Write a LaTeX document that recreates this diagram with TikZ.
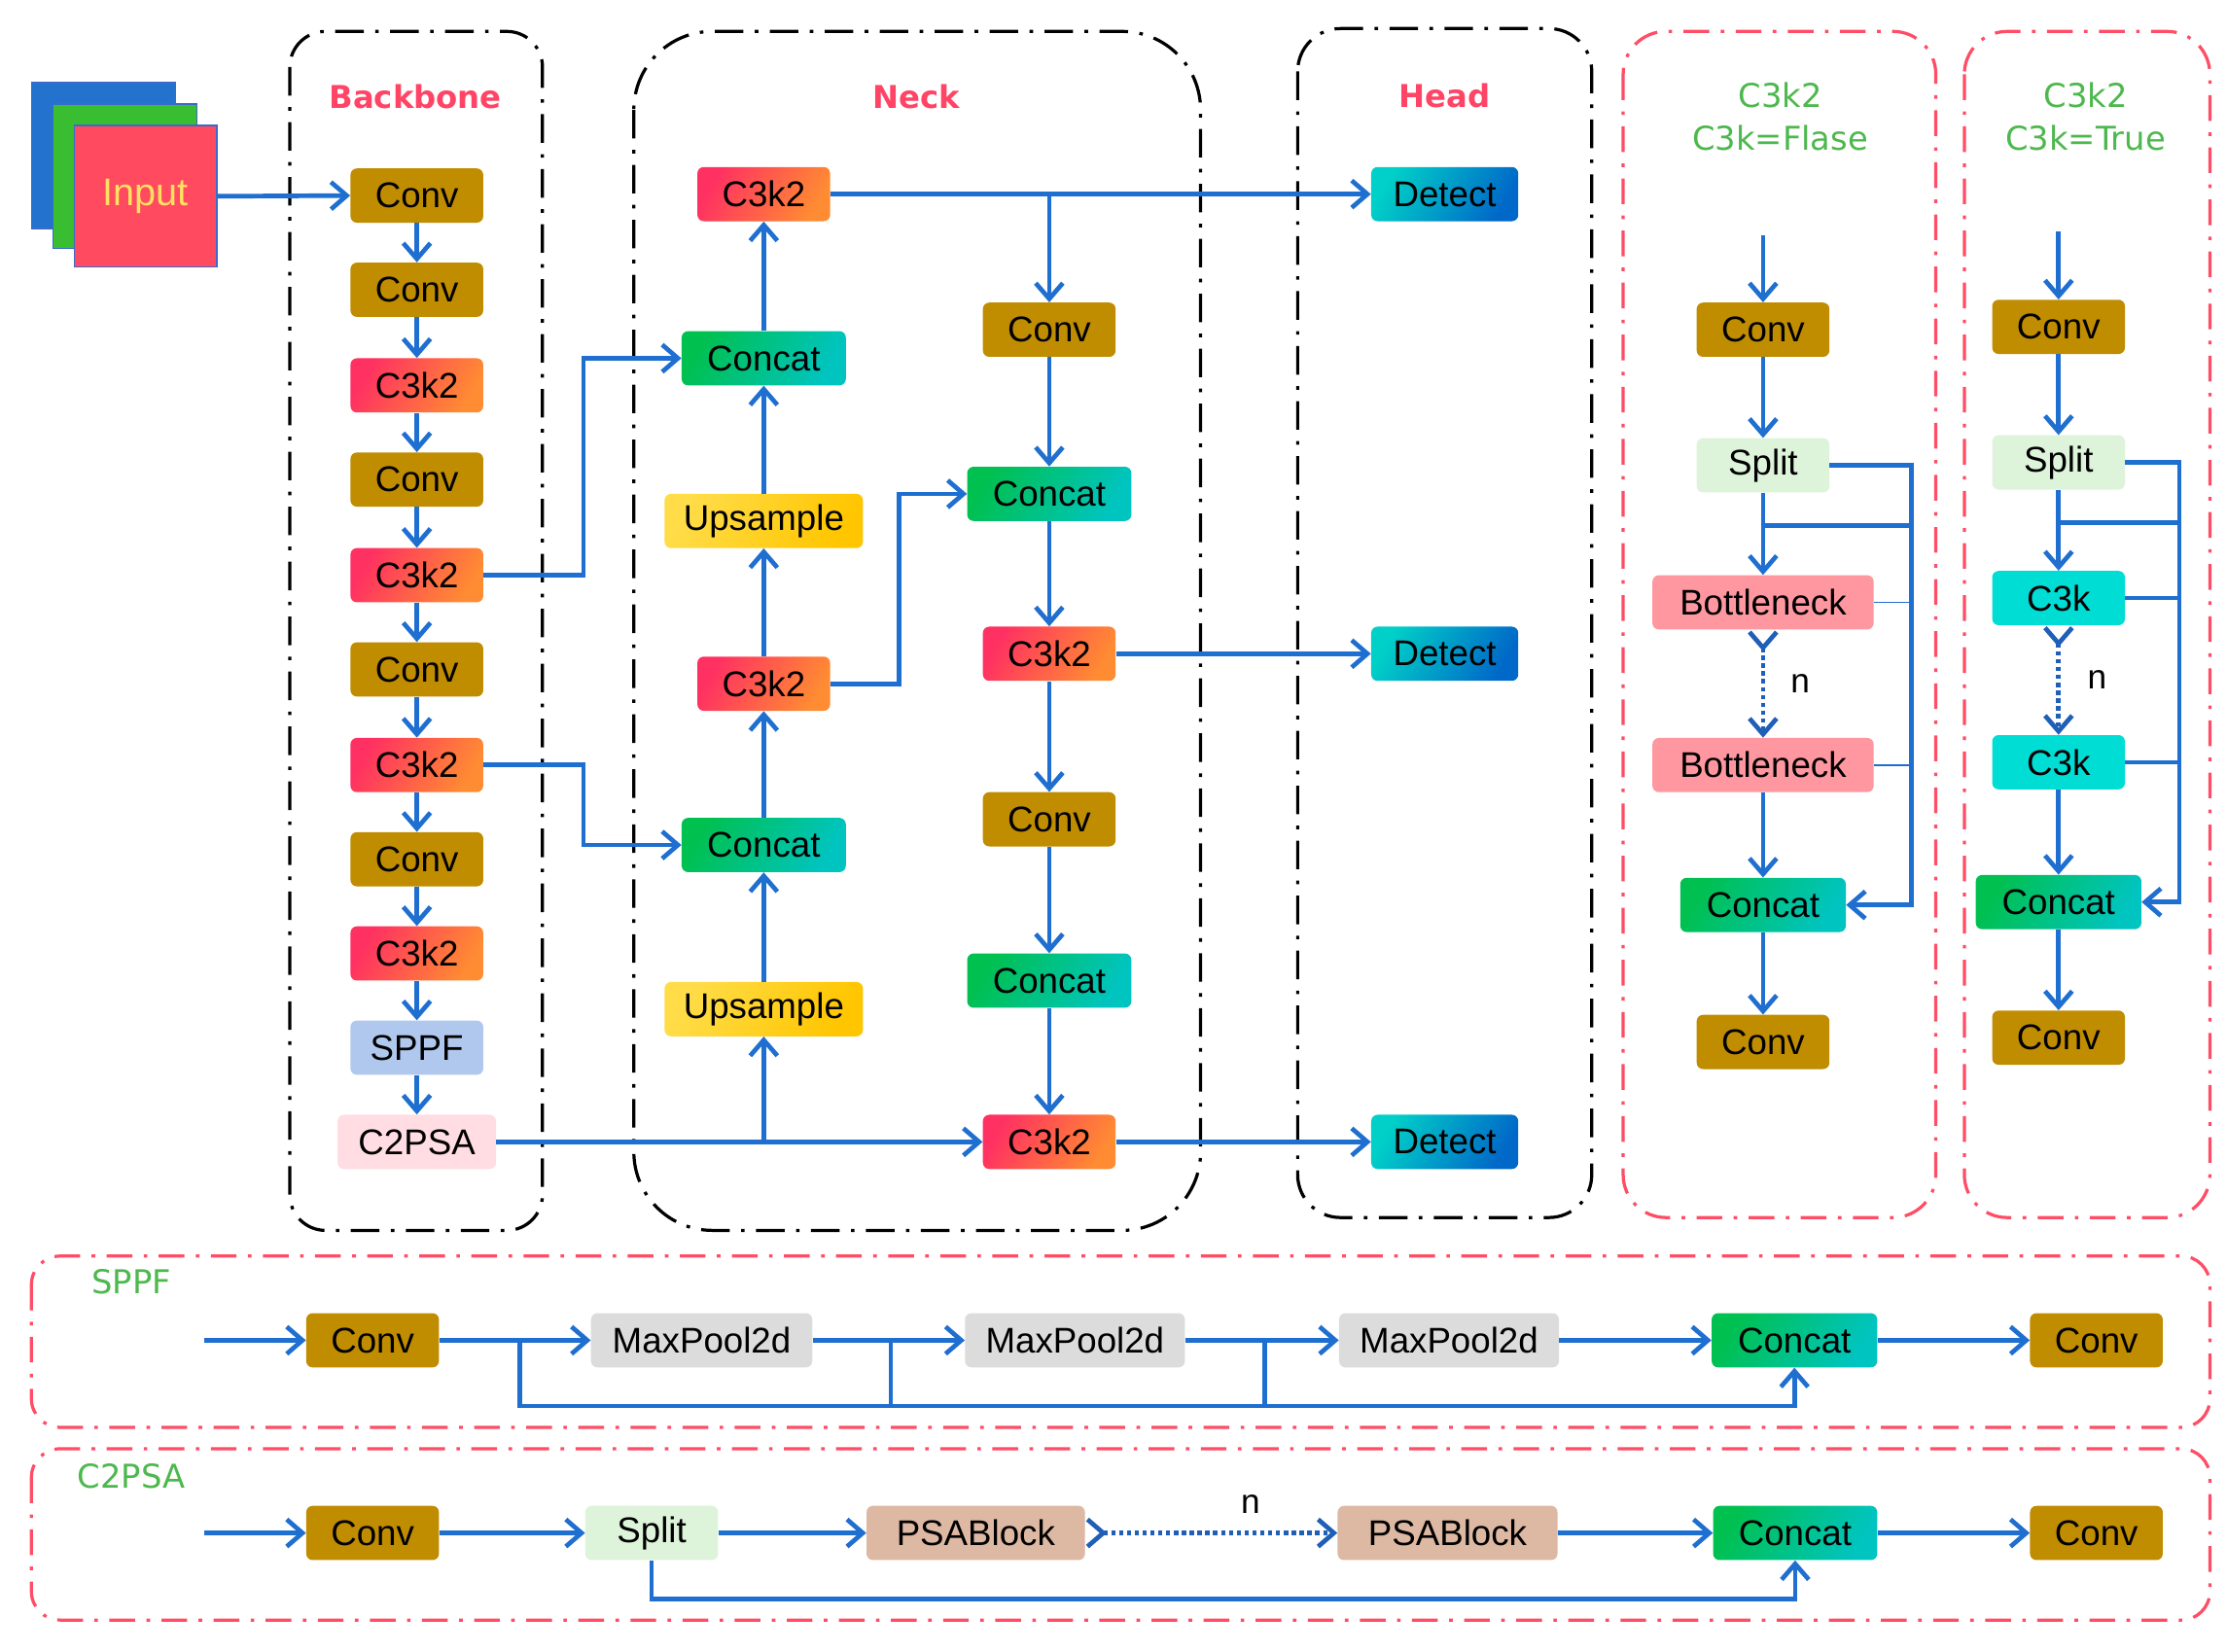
\documentclass[tikz,border=0pt]{standalone}
\usepackage{fontspec}
\setmainfont{Liberation Sans}
\newfontfamily\dvs{DejaVu Sans}
\usetikzlibrary{arrows.meta,calc}
\definecolor{convc}{HTML}{C08C00}
\definecolor{c3kA}{HTML}{FF3062}
\definecolor{c3kB}{HTML}{FF8C32}
\definecolor{concA}{HTML}{00C050}
\definecolor{concB}{HTML}{00C4C0}
\definecolor{upA}{HTML}{FFDC48}
\definecolor{upB}{HTML}{FFC600}
\definecolor{detA}{HTML}{00D0C8}
\definecolor{detB}{HTML}{0068C8}
\definecolor{sppfc}{HTML}{B0C8EE}
\definecolor{c2psac}{HTML}{FFDDE2}
\definecolor{splitc}{HTML}{DDF3DA}
\definecolor{bottc}{HTML}{FF97A0}
\definecolor{c3kc}{HTML}{00DDD5}
\definecolor{maxc}{HTML}{DCDCDC}
\definecolor{psac}{HTML}{DDB8A2}
\definecolor{arrc}{HTML}{1F6FD0}
\definecolor{arrd}{HTML}{1F5FB8}
\definecolor{titred}{HTML}{FF4466}
\definecolor{titgrn}{HTML}{4DB84D}
\definecolor{redd}{HTML}{FF4D66}
\definecolor{inblue}{HTML}{2272CE}
\definecolor{ingreen}{HTML}{38BE30}
\definecolor{inred}{HTML}{FF4A60}
\definecolor{inbd}{HTML}{3A6BC8}
\definecolor{inyel}{HTML}{FFE060}
\tikzset{
  blk/.style={rectangle, rounded corners=4.5pt, minimum height=38pt, minimum width=93pt,
    inner sep=0pt, font=\fontsize{25}{30}\selectfont, text=black},
  conv/.style={blk, fill=convc},
  c3ktwo/.style={blk, left color=c3kA, right color=c3kB, shading angle=60},
  concat/.style={blk, minimum width=115pt, left color=concA, right color=concB, shading angle=60},
  upsm/.style={blk, minimum width=139pt, left color=upA, right color=upB, shading angle=60},
  detect/.style={blk, minimum width=103pt, left color=detA, right color=detB, shading angle=60},
  tipa/.tip={Straight Barb[length=11pt,width=19pt]},
  arr/.style={draw=arrc, line width=3.2pt, -tipa},
  ln/.style={draw=arrc, line width=3.2pt},
  thinln/.style={draw=arrc, line width=1.3pt},
  dotarr/.style={draw=arrd, line width=3.2pt, dash pattern=on 3pt off 2.5pt, {tipa[reversed]}-tipa},
  grpk/.style={draw=black, line width=2.2pt, dash pattern=on 20pt off 8pt on 2.5pt off 8pt},
  grpr/.style={draw=redd, line width=2.2pt, dash pattern=on 18pt off 8pt on 2.5pt off 8pt},
  ttl/.style={font=\dvs\bfseries\fontsize{22}{26}\selectfont, text=titred},
  gttl/.style={font=\dvs\fontsize{23}{30}\selectfont, text=titgrn, align=center},
  nlab/.style={font=\fontsize{24}{28}\selectfont, text=black},
}
\begin{document}
\begin{tikzpicture}[x=1pt,y=-1pt]
\useasboundingbox (0,0) rectangle (1560,1157);
\fill[white] (0,0) rectangle (1560,1157);
% group frames
\draw[grpk, rounded corners=25pt] (203,22) rectangle (380,862);
\draw[grpk, rounded corners=55pt] (444,22) rectangle (841,862);
\draw[grpk, rounded corners=30pt] (909,20) rectangle (1115,853);
\draw[grpr, rounded corners=30pt] (1137,22) rectangle (1356,853);
\draw[grpr, rounded corners=30pt] (1376,22) rectangle (1548,853);
\draw[grpr, rounded corners=20pt] (22,880) rectangle (1548,1000);
\draw[grpr, rounded corners=20pt] (22,1015) rectangle (1548,1135);
% titles
\node[ttl] (tB) at (291,68) {Backbone};
\node[ttl] (tN) at (642,68) {Neck};
\node[ttl] (tH) at (1012,67) {Head};
\node[gttl] (tF) at (1247,82) {C3k2\\C3k=Flase};
\node[gttl] (tT) at (1461,82) {C3k2\\C3k=True};
\node[gttl] (tS) at (92,898) {SPPF};
\node[gttl] (tC) at (92,1034) {C2PSA};
% input stack
\draw[draw=inbd, fill=inblue, line width=1pt] (22,58) rectangle (123,160);
\draw[draw=inbd, fill=ingreen, line width=1pt] (37,73) rectangle (138,174);
\node[draw=inbd, fill=inred, line width=1pt, minimum width=100pt, minimum height=99pt,
  inner sep=0pt, text=inyel, font=\fontsize{27}{30}\selectfont] (input) at (102,137.5) {Input};
% backbone
\node[conv] (b1) at (292,137) {Conv};
\node[conv] (b2) at (292,203) {Conv};
\node[c3ktwo] (b3) at (292,270) {C3k2};
\node[conv] (b4) at (292,336) {Conv};
\node[c3ktwo] (b5) at (292,403) {C3k2};
\node[conv] (b6) at (292,469) {Conv};
\node[c3ktwo] (b7) at (292,536) {C3k2};
\node[conv] (b8) at (292,602) {Conv};
\node[c3ktwo] (b9) at (292,668) {C3k2};
\node[blk, fill=sppfc] (b10) at (292,734) {SPPF};
\node[blk, fill=c2psac, minimum width=111pt] (b11) at (292,800) {C2PSA};
% neck
\node[c3ktwo] (n1) at (535,136) {C3k2};
\node[concat] (n2) at (535,251) {Concat};
\node[upsm] (n3) at (535,365) {Upsample};
\node[c3ktwo] (n4) at (535,479) {C3k2};
\node[concat] (n5) at (535,592) {Concat};
\node[upsm] (n6) at (535,707) {Upsample};
\node[conv] (m1) at (735,231) {Conv};
\node[concat] (m2) at (735,346) {Concat};
\node[c3ktwo] (m3) at (735,458) {C3k2};
\node[conv] (m4) at (735,574) {Conv};
\node[concat] (m5) at (735,687) {Concat};
\node[c3ktwo] (m6) at (735,800) {C3k2};
% head
\node[detect] (d1) at (1012,136) {Detect};
\node[detect] (d2) at (1012,458) {Detect};
\node[detect] (d3) at (1012,800) {Detect};
% C3k2 false panel
\coordinate (fin) at (1235,165);
\node[conv] (f1) at (1235,231) {Conv};
\node[blk, fill=splitc] (f2) at (1235,326) {Split};
\node[blk, fill=bottc, minimum width=155pt] (f3) at (1235,422) {Bottleneck};
\node[blk, fill=bottc, minimum width=155pt] (f4) at (1235,536) {Bottleneck};
\node[concat, minimum width=116pt] (f5) at (1235,634) {Concat};
\node[conv] (f6) at (1235,730) {Conv};
\node[nlab] (fn) at (1261,479) {n};
% C3k2 true panel
\coordinate (tin) at (1442,162);
\node[conv] (t1) at (1442,229) {Conv};
\node[blk, fill=splitc] (t2) at (1442,324) {Split};
\node[blk, fill=c3kc] (t3) at (1442,419) {C3k};
\node[blk, fill=c3kc] (t4) at (1442,534) {C3k};
\node[concat, minimum width=116pt] (t5) at (1442,632) {Concat};
\node[conv] (t6) at (1442,727) {Conv};
\node[nlab] (tn) at (1469,476) {n};
% SPPF row
\coordinate (sin) at (143,939);
\node[conv] (s1) at (261,939) {Conv};
\node[blk, fill=maxc, minimum width=155pt] (s2) at (491.5,939) {MaxPool2d};
\node[blk, fill=maxc, minimum width=154pt] (s3) at (753,939) {MaxPool2d};
\node[blk, fill=maxc, minimum width=154pt] (s4) at (1015,939) {MaxPool2d};
\node[concat, minimum width=116pt] (s5) at (1257,939) {Concat};
\node[conv] (s6) at (1468.5,939) {Conv};
% C2PSA row
\coordinate (cin) at (143,1074);
\node[conv] (p1) at (261,1074) {Conv};
\node[blk, fill=splitc] (p2) at (456.5,1074) {Split};
\node[blk, fill=psac, minimum width=153pt] (p3) at (683.5,1074) {PSABlock};
\node[blk, fill=psac, minimum width=154pt] (p4) at (1014,1074) {PSABlock};
\node[concat] (p5) at (1257.5,1074) {Concat};
\node[conv] (p6) at (1468.5,1074) {Conv};
\node[nlab] (pn) at (876,1054) {n};
% ---- connectors ----
\draw[arr] (input.east) -- (b1.west);
\foreach \a/\b in {b1/b2,b2/b3,b3/b4,b4/b5,b5/b6,b6/b7,b7/b8,b8/b9,b9/b10,b10/b11}
  \draw[arr] (\a.south) -- (\b.north);
\draw[arr] (b5.east) -- ++(70,0) |- (n2.west);
\draw[arr] (b7.east) -- ++(70,0) |- (n5.west);
\draw[arr] (b11.east) -- (m6.west);
\coordinate (j1) at (b11.east -| n6.south);
\draw[arr] (j1) -- (n6.south);
\foreach \a/\b in {n6/n5,n5/n4,n4/n3,n3/n2,n2/n1}
  \draw[arr] (\a.north) -- (\b.south);
\draw[arr] (n4.east) -- ++(48,0) |- (m2.west);
\draw[arr] (n1.east) -- (d1.west);
\coordinate (j2) at (n1.east -| m1.north);
\draw[arr] (j2) -- (m1.north);
\foreach \a/\b in {m1/m2,m2/m3,m3/m4,m4/m5,m5/m6}
  \draw[arr] (\a.south) -- (\b.north);
\draw[arr] (m3.east) -- (d2.west);
\draw[arr] (m6.east) -- (d3.west);
% false panel
\draw[arr] (fin) -- (f1.north);
\draw[arr] (f1.south) -- (f2.north);
\draw[arr] (f2.south) -- (f3.north);
\draw[arr] (f2.east) -- ++(57,0) |- (f5.east);
\coordinate (fb) at (1235,368);
\draw[ln] (fb) -- ++(103.5,0);
\draw[thinln] (f3.east) -- ++(26,0);
\draw[thinln] (f4.east) -- ++(26,0);
\draw[dotarr] (f3.south) -- (f4.north);
\draw[arr] (f4.south) -- (f5.north);
\draw[arr] (f5.south) -- (f6.north);
% true panel
\draw[arr] (tin) -- (t1.north);
\draw[arr] (t1.south) -- (t2.north);
\draw[arr] (t2.south) -- (t3.north);
\draw[arr] (t2.east) -- ++(38,0) |- (t5.east);
\coordinate (tb) at (1442,366);
\draw[ln] (tb) -- ++(84.5,0);
\draw[ln] (t3.east) -- ++(38,0);
\draw[ln] (t4.east) -- ++(38,0);
\draw[dotarr] (t3.south) -- (t4.north);
\draw[arr] (t4.south) -- (t5.north);
\draw[arr] (t5.south) -- (t6.north);
% SPPF row
\draw[arr] (sin) -- (s1.west);
\foreach \a/\b in {s1/s2,s2/s3,s3/s4,s4/s5,s5/s6}
  \draw[arr] (\a.east) -- (\b.west);
\coordinate (sk1) at (364,939);
\coordinate (sk2) at (624,939);
\coordinate (sk3) at (886,939);
\draw[arr] (sk1) -- ++(0,46) -| (s5.south);
\draw[ln] (sk2) -- ++(0,46);
\draw[ln] (sk3) -- ++(0,46);
% C2PSA row
\draw[arr] (cin) -- (p1.west);
\draw[arr] (p1.east) -- (p2.west);
\draw[arr] (p2.east) -- (p3.west);
\draw[dotarr] (p3.east) -- (p4.west);
\draw[arr] (p4.east) -- (p5.west);
\draw[arr] (p5.east) -- (p6.west);
\draw[arr] (p2.south) -- ++(0,27) -| (p5.south);
\end{tikzpicture}
\end{document}
